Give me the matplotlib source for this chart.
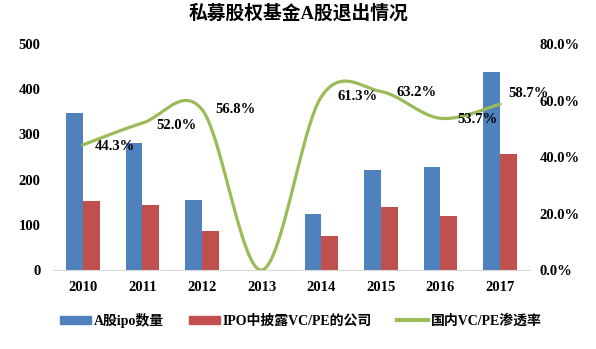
import numpy as np
import matplotlib
matplotlib.use("Agg")
import matplotlib.pyplot as plt
from matplotlib.patches import Patch
from matplotlib.lines import Line2D
from matplotlib.ticker import FuncFormatter

# data
years = ["2010", "2011", "2012", "2013", "2014", "2015", "2016", "2017"]
ipo_count = [347, 280, 154, 0, 124, 222, 227, 438]
vcpe_count = [153, 144, 87, 0, 76, 140, 120, 256]
penetration = [44.3, 52.0, 56.8, 0.0, 61.3, 63.2, 53.7, 58.7]

BLUE = "#4F81BD"
RED = "#C0504D"
GREEN = "#9BBB59"
FAM = ["Liberation Serif", "Noto Sans CJK SC"]


def smooth(xs, ys, n=40):
    # catmull-rom, close to excel's smoothed line
    xs = np.asarray(xs, float)
    ys = np.asarray(ys, float)
    px = np.concatenate([[xs[0]], xs, [xs[-1]]])
    py = np.concatenate([[ys[0]], ys, [ys[-1]]])
    outx, outy = [], []
    for i in range(1, len(px) - 2):
        t = np.linspace(0, 1, n)
        m0x, m1x = (px[i + 1] - px[i - 1]) / 2, (px[i + 2] - px[i]) / 2
        m0y, m1y = (py[i + 1] - py[i - 1]) / 2, (py[i + 2] - py[i]) / 2
        h00 = 2 * t**3 - 3 * t**2 + 1
        h10 = t**3 - 2 * t**2 + t
        h01 = -2 * t**3 + 3 * t**2
        h11 = t**3 - t**2
        outx.append(h00 * px[i] + h10 * m0x + h01 * px[i + 1] + h11 * m1x)
        outy.append(h00 * py[i] + h10 * m0y + h01 * py[i + 1] + h11 * m1y)
    return np.concatenate(outx), np.concatenate(outy)


fig = plt.figure(figsize=(5.96, 3.49), dpi=100)
ax = fig.add_axes([0.089, 0.226, 0.800, 0.648])
ax2 = ax.twinx()

x = np.arange(len(years))
w = 0.28
ax.bar(x - w / 2, ipo_count, w, color=BLUE, zorder=2)
ax.bar(x + w / 2, vcpe_count, w, color=RED, zorder=2)

ax.set_xlim(-0.5, len(years) - 0.5)
ax.set_ylim(0, 500)
ax.set_yticks(range(0, 501, 100))
ax.set_xticks(x)
ax.set_xticklabels(years)

sx, sy = smooth(x, penetration)
ax2.plot(sx, np.array(sy) / 100, color=GREEN, lw=2.3, solid_capstyle="round")
ax2.set_ylim(0, 0.8)
ax2.set_yticks(np.arange(0, 0.81, 0.2))
ax2.yaxis.set_major_formatter(FuncFormatter(lambda v, p: "%.1f%%" % (v * 100)))

# label offsets in px (right of point, excel style)
offs = [(32, -2), (34, -2), (33, 0), None, (36, 0), (36, -1), (37, -1), (28, 11)]
for i, v in enumerate(penetration):
    if offs[i] is None:
        continue
    ax2.annotate("%.1f%%" % v, (x[i], v / 100),
                 xytext=(offs[i][0] * 0.72, offs[i][1] * 0.72), textcoords="offset points",
                 ha="center", va="center", fontsize=10.5, fontweight="bold",
                 family="Liberation Serif")

for a in (ax, ax2):
    for s in ("top", "left", "right"):
        a.spines[s].set_visible(False)
    a.tick_params(length=0)
ax.spines["bottom"].set_color("#D9D9D9")
ax2.spines["bottom"].set_visible(False)
ax.tick_params(axis="y", pad=9)
ax.tick_params(axis="x", pad=8)
ax2.tick_params(axis="y", pad=7)
for lab in ax.get_xticklabels() + ax.get_yticklabels() + ax2.get_yticklabels():
    lab.set_family("Liberation Serif")
    lab.set_fontweight("bold")
    lab.set_fontsize(10.5)

fig.text(0.5, 0.962, "私募股权基金A股退出情况", ha="center", va="center",
         fontsize=13.5, fontweight="bold", family=FAM)

handles = [Patch(color=BLUE), Patch(color=RED), Line2D([], [], color=GREEN, lw=3)]
labels = ["A股ipo数量", "IPO中披露VC/PE的公司", "国内VC/PE渗透率"]
fig.legend(handles, labels, loc="center", bbox_to_anchor=(0.505, 1 - 320 / 349), ncol=3,
           frameon=False, prop={"family": FAM, "weight": "bold", "size": 10},
           handlelength=2.25, handleheight=0.5, handletextpad=0.2, columnspacing=1.8)

fig.savefig("out.png", dpi=100)
